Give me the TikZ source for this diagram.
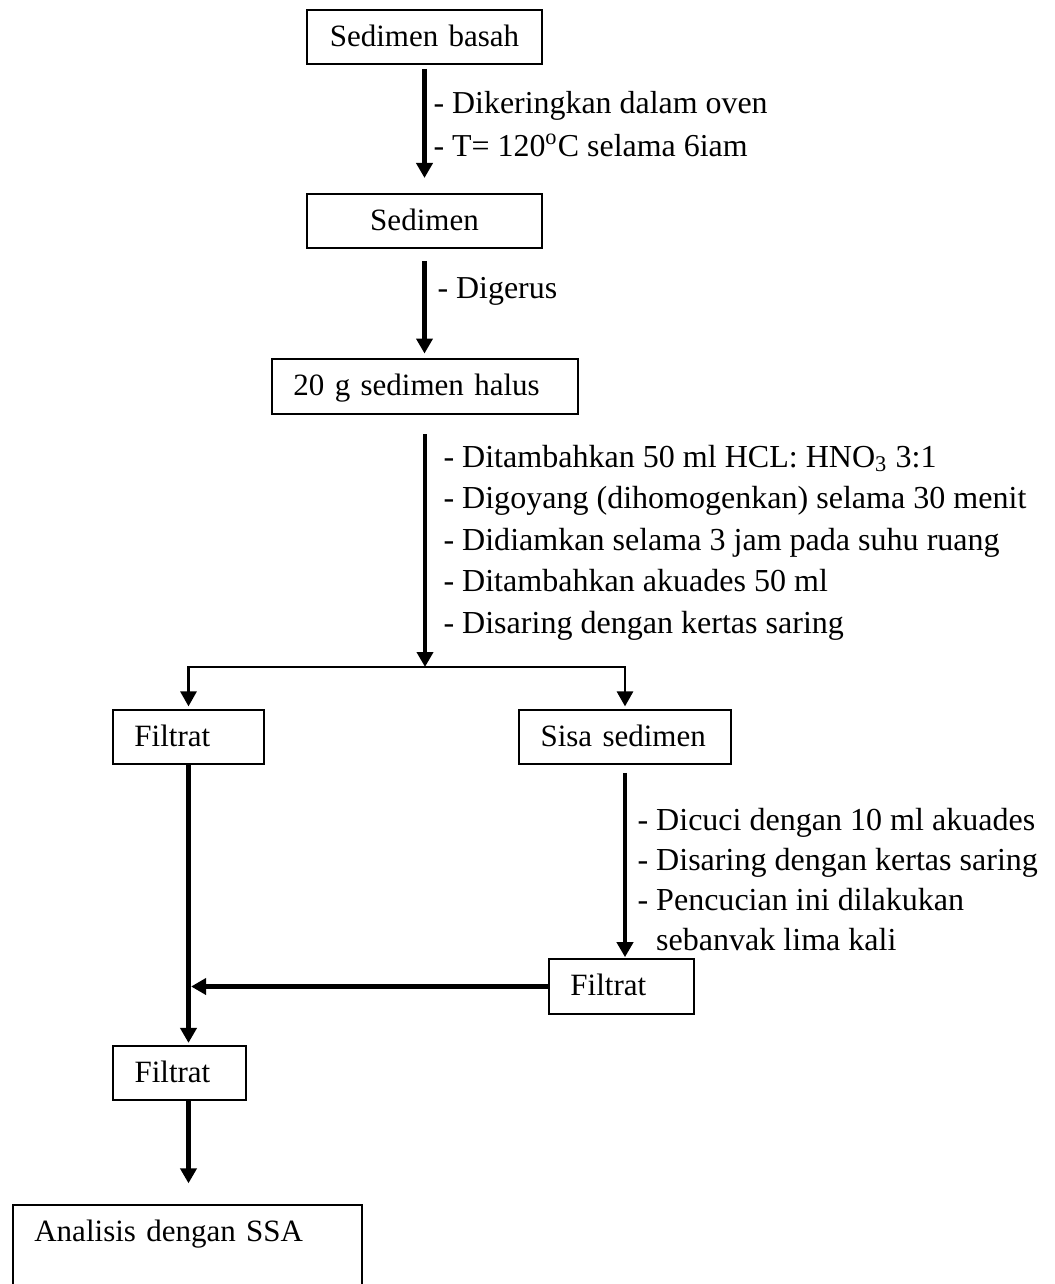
\documentclass[tikz,border=0pt]{standalone}
\usepackage{fontspec}
\setmainfont{Liberation Serif}
\usetikzlibrary{arrows.meta}

\def\unitpx{0.387pt}

\begin{document}
\begin{tikzpicture}[x=\unitpx,y=-\unitpx,font=\fontsize{12}{16.2}\selectfont]
  \tikzstyle{box}=[draw,line width=0.7pt,inner xsep=8.3pt,inner ysep=6.9pt,text height=0.72em,text depth=0pt]
  \tikzstyle{note}=[anchor=north west,inner sep=0pt,align=left]
  \tikzstyle{flow}=[line width=1.9pt,-{Triangle[length=5.8pt,width=6.2pt]}]
  \tikzstyle{branch}=[line width=1.1pt,-{Triangle[length=5.8pt,width=6.2pt]}]

  \clip (0,0) rectangle (1054,1284);

  % Draw the boxes of the main line
  \node[box,text width=74.3pt,align=center] (basah) at (424.5,37) {Sedimen basah};
  \node[box,text width=74.3pt,align=center] (kering) at (424.5,221) {Sedimen};
  \node[box,text width=101.8pt,align=left] (halus) at (425,386.5) {20 g sedimen halus};
  \coordinate (split) at (425,667);

  % Draw the two products of the filtering
  \node[box,text width=41.8pt,align=left] (filtrat1) at (188.5,737) {Filtrat};
  \node[box,text width=65.4pt,align=left] (sisa) at (625,737) {Sisa sedimen};
  \node[box,text width=39.5pt,align=left] (filtrat2) at (621.5,986.5) {Filtrat};
  \node[box,text width=34.8pt,align=left] (filtrat3) at (179.5,1073) {Filtrat};
  \node[box,text width=118.4pt,align=left,text depth=40pt,anchor=north west] (ssa) at (12,1204) {Analisis dengan SSA};

  % Connect the boxes
  \draw[flow,shorten <=1.5pt,shorten >=5.8pt] (basah.south) -- (basah.south |- kering.north);
  \draw[flow,shorten <=4.6pt,shorten >=1.9pt] (kering.south) -- (kering.south |- halus.north);
  \draw[flow,shorten <=7.7pt] (halus.south) -- (split);
  \draw[branch,shorten >=1pt] (split) -| (filtrat1.north);
  \draw[branch,shorten >=1pt] (split) -| (sisa.north);
  \draw[flow,shorten >=0.8pt] (filtrat1.south) -- (filtrat1.south |- filtrat3.north);
  \draw[flow,shorten <=3pt,shorten >=0.5pt] (sisa.south) -- (sisa.south |- filtrat2.north);
  \draw[flow,shorten >=1pt] (filtrat2.west) -- (filtrat1.south |- filtrat2.west);
  \draw[flow,shorten >=8pt] (filtrat1.south |- filtrat3.south) -- (filtrat1.south |- ssa.north);

  % Annotate the steps
  \node[note,font=\fontsize{12.35}{16.4}\selectfont] (n-oven) at (433,91) {- Dikeringkan dalam oven\\- T= 120\textsuperscript{o}C selama 6iam};
  \node[note,font=\fontsize{12.35}{16.4}\selectfont] (n-gerus) at (437,276.5) {- Digerus};
  \node[note,font=\fontsize{12.4}{16.06}\selectfont] (n-asam) at (443,444.5) {- Ditambahkan 50 ml HCL: HNO\textsubscript{3} 3:1\\- Digoyang (dihomogenkan) selama 30 menit\\- Didiamkan selama 3 jam pada suhu ruang\\- Ditambahkan akuades 50 ml\\- Disaring dengan kertas saring};
  \node[note,font=\fontsize{12.4}{15.5}\selectfont] (n-cuci) at (637,807.5) {- Dicuci dengan 10 ml akuades\\- Disaring dengan kertas saring\\- Pencucian ini dilakukan\\\phantom{- }sebanvak lima kali};
\end{tikzpicture}
\end{document}
